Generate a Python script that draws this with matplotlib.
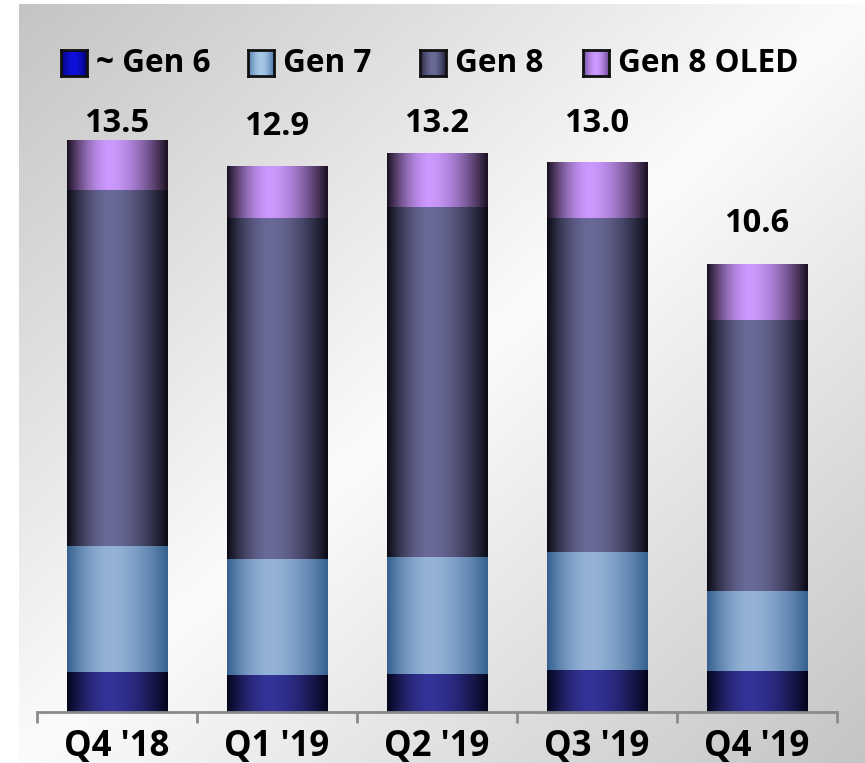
import numpy as np
import matplotlib
matplotlib.use("Agg")
import matplotlib.pyplot as plt
from matplotlib.colors import to_rgb

# data
quarters = ["Q4 '18", "Q1 '19", "Q2 '19", "Q3 '19", "Q4 '19"]
gen6 = [0.95, 0.87, 0.90, 0.99, 0.97]
gen7 = [2.97, 2.74, 2.76, 2.79, 1.89]
gen8 = [8.42, 8.06, 8.28, 7.90, 6.41]
gen8_oled = [1.16, 1.22, 1.26, 1.32, 1.32]
totals = [13.5, 12.9, 13.2, 13.0, 10.6]
series_names = ["~ Gen 6", "Gen 7", "Gen 8", "Gen 8 OLED"]

# (edge colour, centre colour) of the horizontal gradient in each bar
bar_colors = [("#05051a", "#333399"), ("#35608f", "#95b3d7"),
              ("#0a0a14", "#6a6a9a"), ("#1a1020", "#cc99ff")]
legend_colors = [("#00006a", "#1010dd"), ("#4a78a8", "#a8c8e8"),
                 ("#20203a", "#6a6a96"), ("#6a4a90", "#cc99ff")]

plt.rcParams['font.family'] = ['Open Sans', 'DejaVu Sans']
plt.rcParams['font.weight'] = 'bold'


def gradient_row(edge, centre, n=200, peak=0.42):
    x = np.linspace(0, 1, n)
    d = np.where(x < peak, (peak - x) / peak, (x - peak) / (1 - peak))
    f = 1 - d ** 1.7
    e = np.array(to_rgb(edge))
    c = np.array(to_rgb(centre))
    return (e[None, :] + (c - e)[None, :] * f[:, None])[None, :, :]


fig = plt.figure(figsize=(8.65, 7.63), dpi=100)

# background: gray corners top-left / bottom-right, white diagonal band
bg = fig.add_axes([19 / 865, 0, 1 - 19 / 865, 1 - 4 / 763])
bg.set_axis_off()
u = np.linspace(0, 1, 300)
v = np.linspace(0, 1, 300)
U, V = np.meshgrid(u, v)
t = 1 - np.abs(U + V - 1)
shade = 0.77 + (0.985 - 0.77) * t
bg.imshow(np.dstack([shade, shade, shade]), extent=[0, 1, 0, 1], aspect='auto',
          origin='upper')
bg.set_xlim(0, 1)
bg.set_ylim(0, 1)

ax = fig.add_axes([37 / 865, 1 - 712 / 763, 800 / 865, 712 / 763])
ax.patch.set_alpha(0)
ymax = 712 / 42.3
ax.set_xlim(-0.5, len(quarters) - 0.5)
ax.set_ylim(0, ymax)

width = 0.63
bottoms = np.zeros(len(quarters))
for vals, (edge, centre) in zip([gen6, gen7, gen8, gen8_oled], bar_colors):
    img = gradient_row(edge, centre)
    for i, val in enumerate(vals):
        ax.imshow(img, extent=[i - width / 2, i + width / 2, bottoms[i], bottoms[i] + val],
                  aspect='auto', interpolation='bilinear', zorder=2)
    bottoms += np.array(vals)

ax.set_xlim(-0.5, len(quarters) - 0.5)
ax.set_ylim(0, ymax)

for i, tot in enumerate(totals):
    ax.text(i, min(tot + 0.75, 13.72), f"{tot:.1f}", ha='center', va='baseline',
            fontsize=23.5, fontweight='bold', color='black')

for s in ['top', 'right', 'left']:
    ax.spines[s].set_visible(False)
ax.spines['bottom'].set_color('#8a8a8a')
ax.spines['bottom'].set_linewidth(2)
ax.set_yticks([])
ax.set_xticks(np.arange(len(quarters) + 1) - 0.5, minor=False)
ax.set_xticklabels([])
ax.tick_params(axis='x', length=8, width=2, color='#8a8a8a', direction='out')
for i, q in enumerate(quarters):
    ax.text(i, -0.82, q, ha='center', va='center', fontsize=25, fontweight='bold',
            color='black', clip_on=False)

# legend drawn by hand: gradient squares + labels
leg_x = [61, 248, 420, 583]
for x0, name, (edge, centre) in zip(leg_x, series_names, legend_colors):
    lax = fig.add_axes([x0 / 865, 1 - 76 / 763, 26 / 865, 26 / 763])
    lax.imshow(gradient_row(edge, centre, peak=0.5), extent=[0, 1, 0, 1], aspect='auto')
    lax.set_xticks([])
    lax.set_yticks([])
    for s in lax.spines.values():
        s.set_linewidth(2)
        s.set_color('#111111')
    fig.text((x0 + 35) / 865, 1 - 63 / 763, name, ha='left', va='center',
             fontsize=22.7, fontweight='bold', color='black')

fig.savefig("out.png", dpi=100)
